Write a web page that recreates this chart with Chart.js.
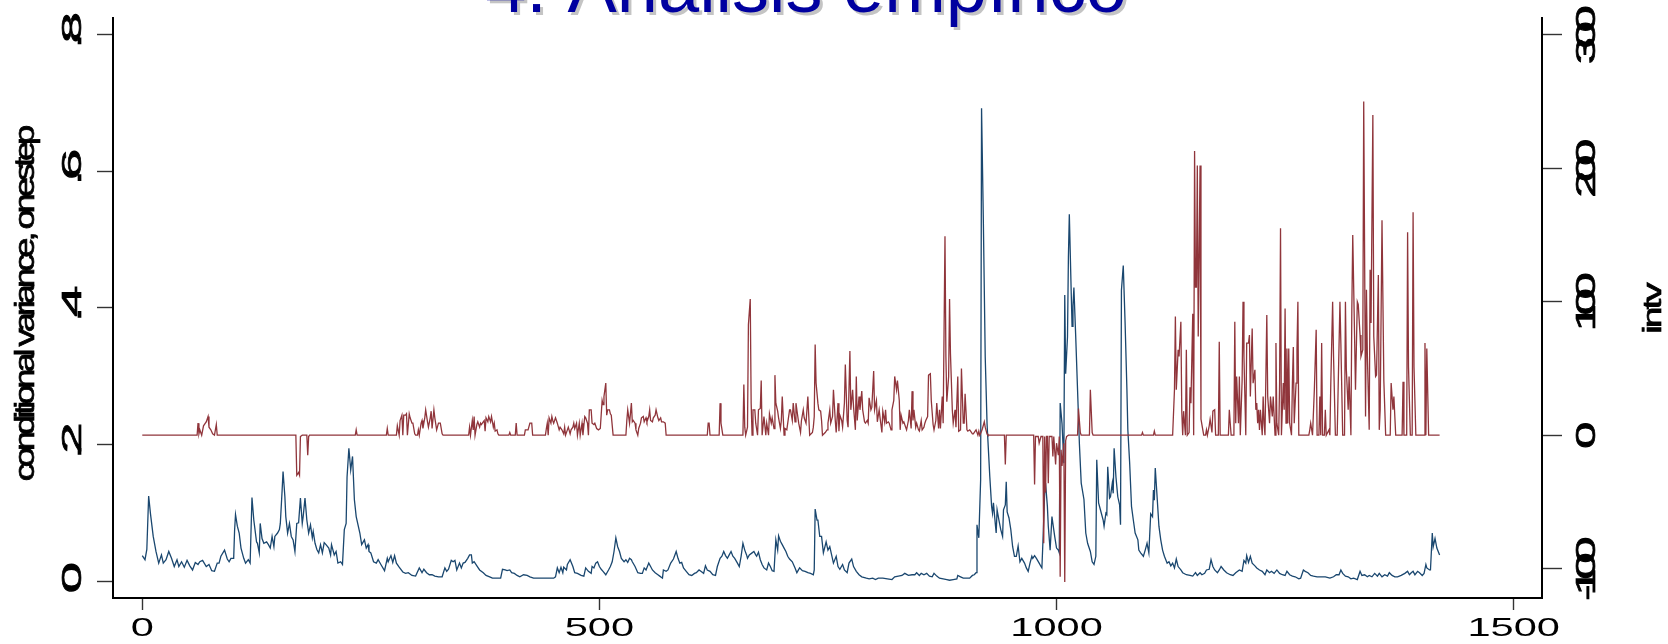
<!DOCTYPE html>
<html>
<head>
<meta charset="utf-8">
<script src="https://cdn.jsdelivr.net/npm/chart.js@4.4.1/dist/chart.umd.min.js"></script>
<style>
  html, body { margin: 0; padding: 0; background: #fff; }
  #wrap { width: 1668px; height: 644px; }
</style>
</head>
<body>
<div id="wrap"><canvas id="chart" width="1668" height="644"></canvas></div>
<script>
// observation index and one-step conditional variance (left axis)
const obsVar = [
  0,3,5,7,9,12,15,18,21,23, 26,29,32,35,38,40,43,46,49,52,
  55,58,61,63,66,70,73,76,79,82, 84,86,90,93,95,97,100,101,102,104,
  106,108,111,113,116,118,120,122,125,126, 128,129,131,133,136,138,140,142,144,145,
  148,150,151,153,154,156,157,159,161,163, 165,167,169,171,173,175,176,178,180,182,
  184,186,187,189,191,193,195,197,199,201, 204,206,207,210,212,214,217,219,221,223,
  224,226,228,230,232,234,
  238,240,243,245,247,248,250,253,256,258, 261,265,268,269,272,274,276,278,281,285,
  288,291,295,299,303,306,308,311,314,317, 320,324,328,331,333,335,338,340,342,344,
  347,349,351,353,356,358,360,361,363,366, 369,373,376,380,383,388,392,394,397,399,
  402,404,407,410,413,417,421,424,428,433, 439,444,450,452,454,456,458,460,461,464,
  465,468,471,473,
  476,480,483,485,488,491,492,494,496,498, 500,502,504,507,510,512,514,516,518,520,
  522,524,527,529,531,533,535,536,539,542, 545,547,549,551,554,556,558,561,564,566,
  569,570,573,575,578,581,584,586,588,590, 592,595,598,601,604,606,609,611,614,616,
  618,621,624,627,629,632,634,636,638,640, 642,644,646,648,651,653,655,657,659,661,
  662,664,667,669,671,672,674,676,678,680, 683,685,687,689,691,693,695,696,698,700,
  702,704,706,708,711,714,716,
  719,722,725,728,731,734,735,736,738,739, 741,743,745,748,750,752,754,756,759,761,
  763,766,768,771,773,776,778,781,784,787, 792,795,799,802,805,810,815,820,823,827,
  831,834,838,842,845,847,850,852,855,858, 861,864,866,869,872,876,880,883,887,891,
  892,895,898,902,905,908,910,912,913,915, 917,918,920,922,924,927,929,930,931,933,
  934,935,937,939,941,942,944,945,946,948, 950,952,954,
  956,958,960,962,965,967,969,971,973,974, 976,978,981,983,984,985,987,988,990,991,
  993,995,996,998,1000,1002,1003,1004,1006,1008, 1009,1010,1012,1013,1014,1016,1017,1018,1019,1021,
  1023,1025,1027,1030,1032,1034,1037,1039,1041,1043, 1044,1046,1048,1051,1052,1054,1055,1056,1058,1059,
  1061,1062,1063,1065,1067,1069,1070,1071,1073,1075, 1077,1078,1080,1082,1084,1086,1089,1090,1092,1095,
  1097,1099,1101,1103,1105,1106,1107,1108,1110,1112, 1114,1116,1118,1121,1123,1125,1127,1129,1131,1133,
  1136,1138,1142,1146,1149,1152,1154,1157,1159,1162, 1164,1167,1169,1171,1173,1176,1178,1180,1183,1186,
  1190,1193,
  1196,1200,1203,1205,1207,1208,1210,1212,1214,1217, 1219,1222,1225,1228,1230,1233,1235,1238,1241,1244,
  1247,1250,1252,1255,1258,1261,1265,1267,1270,1272, 1275,1278,1281,1285,1290,1294,1299,1303,1306,1309,
  1311,1313,1316,1319,1322,1325,1329,1332,1334,1337, 1340,1342,1345,1348,1351,1353,1356,1359,1362,1364,
  1367,1370,1373,1377,1381,1384,1386,1388,1390,1392, 1395,1397,1400,1402,1404,1405,1408,1409,1411,1412,
  1414,1416,1419
];
const condVar = [
  .038,.032,.047,.125,.099,.066,.044,.027,.039,.027, .032,.044,.034,.022,.032,.022,.029,.021,.031,.023,
  .017,.028,.025,.029,.031,.022,.025,.016,.015,.027, .027,.037,.046,.033,.029,.034,.034,.075,.098,.081,
  .071,.049,.034,.027,.032,.027,.123,.090,.058,.056, .042,.085,.063,.056,.058,.054,.049,.066,.051,.066,
  .071,.076,.085,.134,.161,.124,.095,.071,.085,.066, .061,.044,.085,.086,.122,.085,.095,.122,.090,.071,
  .083,.064,.073,.056,.047,.042,.054,.042,.057,.054, .049,.039,.054,.039,.044,.027,.029,.025,.076,.085,
  .153,.195,.163,.183,.120,.095,
  .071,.054,.061,.049,.054,.044,.042,.029,.027,.032, .025,.016,.034,.029,.038,.028,.038,.027,.021,.014,
  .012,.013,.009,.008,.020,.013,.018,.013,.010,.010, .008,.007,.007,.020,.015,.018,.031,.029,.031,.017,
  .027,.020,.027,.028,.034,.039,.039,.027,.029,.023, .017,.013,.009,.007,.005,.005,.005,.018,.017,.016,
  .017,.013,.012,.009,.007,.010,.009,.007,.005,.005, .005,.005,.005,.007,.020,.013,.021,.013,.021,.017,
  .025,.032,.022,.013,
  .012,.009,.008,.020,.015,.012,.022,.020,.027,.029, .022,.018,.015,.010,.017,.022,.029,.044,.064,.051,
  .044,.034,.029,.032,.028,.034,.032,.029,.022,.013, .012,.012,.020,.017,.027,.022,.017,.013,.010,.008,
  .005,.017,.015,.017,.027,.033,.044,.034,.027,.028, .020,.015,.010,.009,.012,.013,.017,.015,.012,.023,
  .017,.015,.010,.009,.022,.034,.037,.044,.038,.034, .039,.044,.037,.034,.027,.022,.037,.056,.046,.039,
  .034,.039,.042,.044,.039,.037,.043,.032,.025,.020, .017,.027,.022,.016,.015,.061,.046,.067,.059,.054,
  .049,.044,.037,.033,.029,.020,.013,
  .020,.016,.015,.013,.012,.010,.017,.106,.090,.090, .066,.066,.042,.058,.046,.051,.039,.027,.037,.022,
  .018,.025,.017,.013,.027,.033,.022,.015,.010,.007, .005,.004,.005,.003,.005,.005,.004,.003,.007,.008,
  .009,.012,.009,.010,.010,.013,.009,.012,.010,.012, .008,.007,.012,.008,.005,.004,.003,.002,.003,.004,
  .009,.007,.005,.005,.005,.009,.010,.013,.083,.064, .149,.692,.524,.329,.231,.154,.110,.100,.115,.085,
  .071,.105,.090,.076,.066,.105,.112,.146,.102,.093, .076,.051,.037,
  .037,.052,.029,.034,.027,.020,.015,.027,.037,.034, .038,.034,.027,.022,.020,.054,.129,.144,.110,.081,
  .046,.095,.085,.066,.049,.046,.042,.261,.231,.173, .419,.304,.358,.475,.537,.426,.373,.403,.430,.358,
  .280,.202,.144,.120,.071,.056,.044,.029,.025,.037, .178,.115,.105,.090,.081,.100,.098,.168,.122,.124,
  .144,.129,.195,.153,.124,.112,.083,.426,.462,.378, .280,.222,.173,.110,.090,.071,.061,.046,.042,.037,
  .046,.056,.042,.099,.095,.134,.119,.166,.124,.081, .061,.046,.037,.027,.029,.023,.027,.020,.033,.022,
  .017,.013,.010,.009,.008,.013,.009,.013,.010,.012, .017,.018,.032,.022,.017,.013,.017,.022,.017,.013,
  .010,.009,
  .013,.017,.015,.031,.027,.038,.028,.037,.027,.023, .020,.017,.015,.010,.017,.013,.015,.012,.017,.012,
  .010,.009,.015,.010,.008,.007,.004,.005,.017,.015, .013,.009,.008,.007,.007,.007,.005,.007,.010,.010,
  .017,.012,.008,.007,.004,.005,.003,.015,.009,.010, .007,.009,.007,.012,.008,.012,.007,.010,.008,.013,
  .009,.007,.007,.009,.012,.015,.010,.013,.015,.010, .015,.013,.009,.012,.025,.020,.017,.017,.071,.051,
  .063,.049,.039
];

// observation index and intv (right axis); flat stretches are kept by their end points
const obsIntv = [
  0,60,61,62,63,65,67,69,70,72, 73,75,77,79,81,82,168,169,171,172,
  173,175,180,181,182,183,233,234,235,267, 268,269,278,279,281,282,284,285,286,288,
  289,290,292,293,295,296,298,299,301,302, 303,305,306,307,309,310,312,313,315,316,
  317,319,320,322,324,326,328,329,357,358, 359,361,362,363,364,366,367,369,370,371,
  372,374,375,376,378,379,381,382,384,385, 386,388,389,390,401,402,403,408,409,410,
  418,419,422,424,426,427,441,442,443,444, 445,447,448,449,450,452,453,454,456,457,
  459,461,462,463,465,466,468,469,471,472, 473,475,476,478,479,481,482,484,485,487,
  488,489,491,492,494,495,497,499,501,503, 504,505,507,508,509,511,512,513,515,529,
  530,531,533,535,536,537,539,540,542,543, 545,546,548,549,551,552,554,555,556,558,
  559,561,562,564,565,567,568,570,572,573, 618,619,620,621,631,632,633,635,657,658,
  659,660,662,663,665,666,667,668,670,671, 673,674,676,677,678,680,682,683,685,686,
  688,689,691,692,693,695,696,698,699,700, 702,703,705,706,708,709,711,712,714,715,
  717,718,720,721,723,724,726,727,728,730, 733,734,735,736,737,739,740,742,743,744,
  747,749,750,752,753,755,756,758,759,761, 762,763,765,766,768,769,771,772,774,775,
  777,778,780,781,782,784,785,787,788,790, 791,793,794,795,797,798,800,801,803,804,
  806,807,809,810,812,813,814,816,817,819, 820,822,823,825,826,828,829,830,832,833,
  835,836,838,839,841,842,843,844,846,847, 849,850,852,853,855,856,857,859,860,862,
  863,865,866,868,869,871,872,873,875,876, 878,879,880,882,883,884,886,887,889,890,
  892,893,895,896,898,899,900,902,903,905, 906,908,909,911,912,914,915,916,918,919,
  921,922,924,925,943,944,945,975,976,977, 980,981,983,985,986,987,988,989,990,991,
  992,995,996,997,999,1000,1002,1003,1004,1005, 1006,1008,1009,1010,1011,1013,1023,1024,1026,1027,
  1036,1037,1039,1040,1093,1094,1095,1106,1107,1108, 1127,1129,1130,1131,1133,1134,1136,1137,1138,1139,
  1141,1142,1143,1145,1146,1147,1149,1150,1151,1152, 1153,1154,1155,1157,1158,1160,1161,1163,1164,1165,
  1167,1168,1170,1171,1173,1174,1177,1178,1179,1188, 1189,1190,1191,1194,1195,1196,1197,1199,1200,1201,
  1203,1204,1205,1207,1208,1210,1211,1212,1214,1215, 1217,1218,1219,1220,1221,1222,1223,1225,1226,1227,
  1228,1230,1231,1233,1234,1236,1237,1239,1240,1241, 1243,1244,1245,1246,1248,1249,1250,1251,1252,1253,
  1254,1255,1257,1258,1259,1260,1262,1263,1264,1265, 1276,1277,1278,1280,1282,1284,1285,1287,1288,1289,
  1290,1291,1293,1294,1295,1298,1299,1300,1302,1303, 1305,1307,1308,1310,1311,1313,1315,1316,1317,1319,
  1320,1322,1323,1324,1326,1327,1329,1330,1332,1333, 1335,1336,1338,1339,1340,1342,1343,1344,1346,1347,
  1349,1350,1352,1353,1354,1356,1358,1360,1365,1366, 1368,1369,1371,1378,1379,1380,1383,1384,1385,1387,
  1389,1390,1391,1393,1402,1403,1404,1405,1407,1419
];
const intv = [
  0,0,9,1,4,0,7,9,10,14, 6,4,1,0,8,0,0,-30,-28,-30,
  -1,0,0,-15,-1,0,0,4,0,0, 5,0,0,7,0,11,15,0,15,15,
  16,0,16,13,9,9,1,0,0,4, 0,9,11,5,13,19,10,6,13,18,
  5,19,13,4,9,9,1,0,0,6, 0,11,4,14,0,8,10,6,9,8,
  9,11,3,13,10,14,10,14,6,9, 3,4,1,0,0,2,0,0,9,0,
  0,4,4,9,9,0,0,5,9,0, 13,9,14,11,9,13,11,9,4,6,
  4,1,6,0,4,6,1,4,6,9, 5,9,0,9,0,9,0,14,13,9,
  0,19,19,9,8,9,5,4,5,26, 23,29,39,15,19,19,16,15,0,0,
  11,19,9,24,10,11,9,4,0,5, 9,13,14,10,13,10,14,19,11,10,
  13,15,19,13,11,13,10,10,9,0, 0,9,9,0,0,24,9,0,0,38,
  6,0,6,83,102,24,0,19,19,9, 0,19,20,41,0,14,0,9,0,16,
  9,13,5,45,24,18,13,5,11,29, 0,5,4,9,19,19,11,24,10,24,
  14,9,2,11,19,13,9,9,29,0, 2,6,14,68,39,24,19,18,11,0,
  2,4,9,19,9,14,34,11,2,24, 3,15,11,6,24,53,11,6,63,19,
  34,21,4,44,11,29,19,33,19,10, 9,11,9,28,19,21,48,19,26,10,
  19,13,2,18,10,19,9,10,9,4, 19,26,44,34,41,26,4,15,9,10,
  6,4,11,19,5,33,11,19,6,9, 4,3,11,4,6,9,11,14,45,46,
  26,8,4,11,24,5,19,5,29,9, 149,59,25,44,102,61,19,9,19,6,
  44,3,4,50,9,9,31,4,3,4, 3,1,1,3,4,0,3,0,3,5,
  10,6,1,0,0,-22,0,0,-37,-1, -1,-6,-1,-1,-81,-1,-43,-1,-1,-36,
  -1,-1,-16,-1,-22,-6,-15,-1,-106,-11, -23,-6,-110,-4,-1,0,0,20,2,0,
  0,34,2,0,0,2,0,0,3,0, 0,34,89,34,64,59,85,18,0,18,
  0,64,0,2,36,24,91,0,213,111, 111,202,74,202,12,4,0,0,4,0,
  7,12,2,18,19,0,0,70,0,0, 19,9,0,0,85,9,44,9,44,0,
  41,100,59,0,69,69,75,29,80,39, 49,19,24,9,19,4,19,0,29,9,
  0,90,29,9,29,14,29,0,69,9, 0,39,155,0,39,19,95,9,65,9,
  65,9,0,39,66,9,39,64,100,0, 0,4,9,0,34,79,0,0,29,0,
  69,0,0,19,0,4,0,39,100,59, 0,0,34,100,69,0,0,100,49,19,
  44,0,94,150,74,34,100,98,75,59, 64,250,14,109,59,4,124,84,240,74,
  44,45,120,4,19,161,41,0,0,39, 19,29,0,0,40,0,0,152,51,0,
  0,167,51,0,0,69,0,65,0,0
];

const xTicks = [0, 500, 1000, 1500];
const varTicks = [0, 0.2, 0.4, 0.6, 0.8];
const varTickLabels = ['0', '.2', '.4', '.6', '.8'];
const intvTicks = [-100, 0, 100, 200, 300];

const FONT = '"Liberation Sans", Arial, sans-serif';

// draws text with glyphs widened along the baseline and a fixed gap between letters;
// an optional thin stroke of the same colour makes it heavier
function wideText(ctx, text, x, y, angle, size, sx, gap, stroke) {
  ctx.save();
  ctx.font = size + 'px ' + FONT;
  ctx.textAlign = 'left';
  ctx.textBaseline = 'alphabetic';
  ctx.strokeStyle = ctx.fillStyle;
  ctx.lineWidth = stroke || 0;
  const chars = Array.from(text);
  const widths = chars.map(c => ctx.measureText(c).width * sx);
  const total = widths.reduce((a, b) => a + b, 0) + gap * (chars.length - 1);
  ctx.translate(x, y);
  ctx.rotate(angle);
  let pos = -total / 2;
  chars.forEach((c, i) => {
    ctx.save();
    ctx.translate(pos, 0);
    ctx.scale(sx, 1);
    ctx.fillText(c, 0, 0);
    if (stroke) ctx.strokeText(c, 0, 0);
    ctx.restore();
    pos += widths[i] + gap;
  });
  ctx.restore();
}

const axisText = {
  id: 'axisText',
  afterDraw(chart) {
    const ctx = chart.ctx;
    const sX = chart.scales.x, sVar = chart.scales.yVar, sIntv = chart.scales.yIntv;
    const up = -Math.PI / 2;
    ctx.save();
    ctx.fillStyle = '#000';
    xTicks.forEach(v => wideText(ctx, String(v), sX.getPixelForValue(v), 636, 0, 26, 1.6, 0));
    varTicks.forEach((v, i) => wideText(ctx, varTickLabels[i], 81, sVar.getPixelForValue(v) - 4, up, 28, 2.0, -10, 0.7));
    intvTicks.forEach(v => wideText(ctx, String(v), 1595, sIntv.getPixelForValue(v), up, 27, 1.8, -11, 0.7));
    wideText(ctx, 'conditional variance, onestep', 34, 303, up, 28, 1.3, -4.1, 0.7);
    wideText(ctx, 'intv', 1661, 308, up, 26, 1.5, -3, 0.7);

    // slide heading with its drop shadow
    ctx.font = '74px ' + FONT;
    ctx.textAlign = 'center';
    ctx.textBaseline = 'alphabetic';
    ctx.fillStyle = '#c4c4c4';
    ctx.fillText('4. Análisis empírico', 809, 14.5);
    ctx.fillStyle = '#0000a0';
    ctx.fillText('4. Análisis empírico', 806, 12);
    ctx.restore();
  }
};

const tickGrid = { drawOnChartArea: false, tickLength: 16, tickColor: '#333', tickWidth: 1.4 };
const axisBorder = { display: true, color: '#000', width: 2 };

new Chart(document.getElementById('chart'), {
  type: 'line',
  data: {
    datasets: [
      {
        label: 'intv',
        data: obsIntv.map((x, i) => ({ x, y: intv[i] })),
        yAxisID: 'yIntv',
        borderColor: '#90353b',
        borderWidth: 1.3,
        pointRadius: 0,
        tension: 0,
        order: 0
      },
      {
        label: 'conditional variance, onestep',
        data: obsVar.map((x, i) => ({ x, y: condVar[i] })),
        yAxisID: 'yVar',
        borderColor: '#1a476f',
        borderWidth: 1.3,
        pointRadius: 0,
        tension: 0,
        order: 1
      }
    ]
  },
  options: {
    responsive: false,
    animation: false,
    events: [],
    layout: { padding: { top: 18, left: 0, right: 0, bottom: 0 } },
    plugins: { legend: { display: false }, tooltip: { enabled: false } },
    scales: {
      x: {
        type: 'linear', min: -32, max: 1531,
        afterBuildTicks: s => { s.ticks = xTicks.map(v => ({ value: v })); },
        afterFit: s => { s.height = 46; },
        ticks: { display: false },
        grid: Object.assign({}, tickGrid, { tickLength: 12 }),
        border: axisBorder
      },
      yVar: {
        type: 'linear', position: 'left', min: -0.024, max: 0.824,
        afterBuildTicks: s => { s.ticks = varTicks.map(v => ({ value: v })); },
        afterFit: s => { s.width = 113; },
        ticks: { display: false },
        grid: tickGrid,
        border: axisBorder
      },
      yIntv: {
        type: 'linear', position: 'right', min: -122, max: 312.6,
        afterBuildTicks: s => { s.ticks = intvTicks.map(v => ({ value: v })); },
        afterFit: s => { s.width = 126; },
        ticks: { display: false },
        grid: Object.assign({}, tickGrid, { tickLength: 20 }),
        border: axisBorder
      }
    }
  },
  plugins: [axisText]
});
</script>
</body>
</html>
